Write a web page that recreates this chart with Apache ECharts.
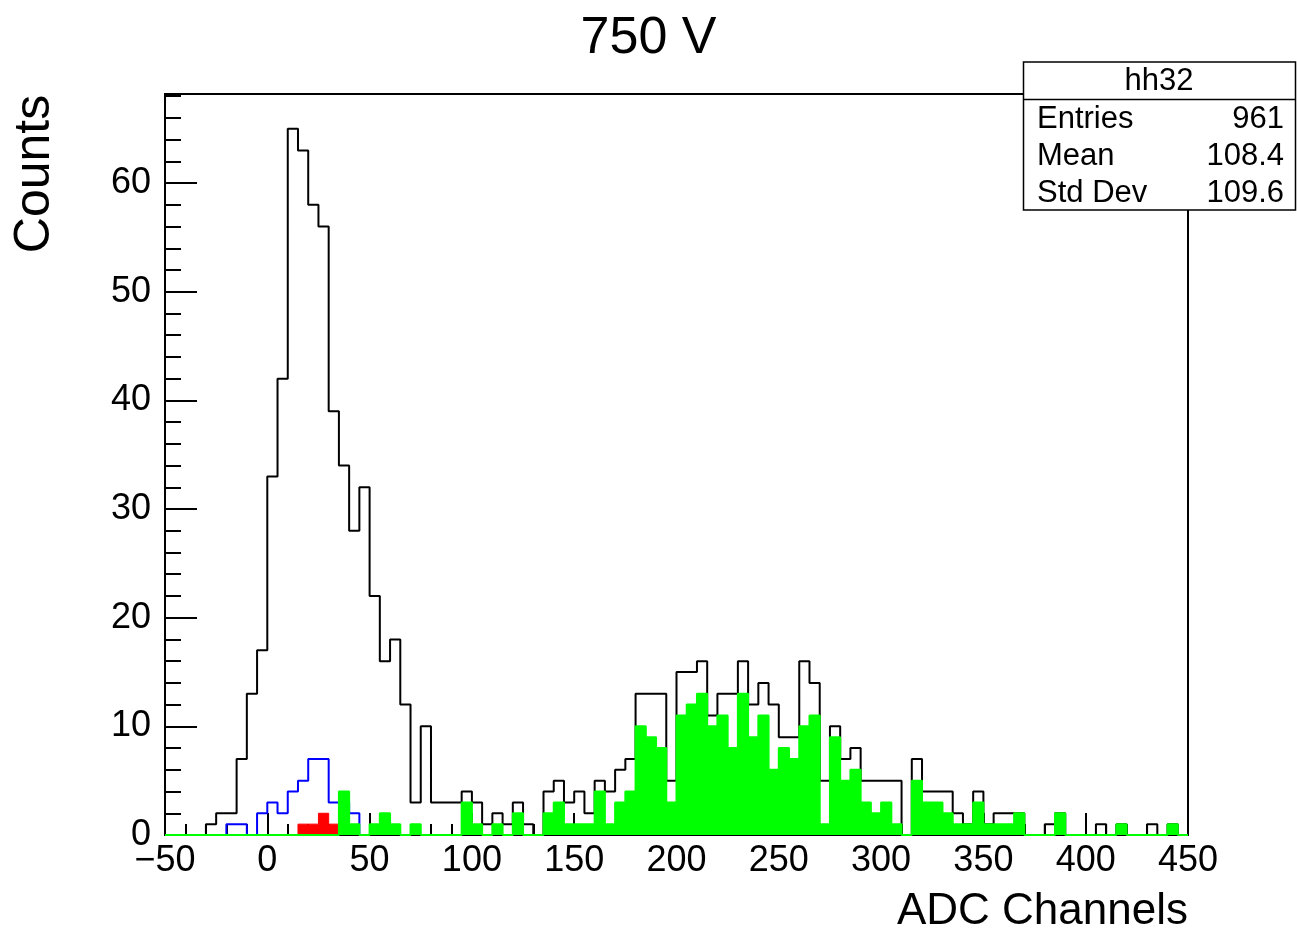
<!DOCTYPE html>
<html><head><meta charset="utf-8">
<script src="https://cdn.jsdelivr.net/npm/echarts@6/dist/echarts.min.js"></script>
<style>html,body{margin:0;padding:0;background:#fff}#c{width:1297px;height:930px}</style>
</head><body><div id="c"></div><script>
// Histogram binning: 100 bins of width 5 from -50 to 450
const binLow = -50, binHigh = 450, binWidth = 5;
const titleText = '750 V';
const xAxisTitle = 'ADC Channels';
const yAxisTitle = 'Counts';
const xTicks = [-50, 0, 50, 100, 150, 200, 250, 300, 350, 400, 450];
const yTicks = [0, 10, 20, 30, 40, 50, 60];
const statsName = 'hh32';
const statsLabels = ['Entries', 'Mean', 'Std Dev'];
const statsValues = ['961', '108.4', '109.6'];

// all events (black outline)
const totalCounts = [
  0,0,0,0,1,2,2,7,13,17,
  33,42,65,63,58,56,39,34,28,32,
  22,16,18,12,3,10,3,3,3,4,
  3,1,2,1,3,1,0,4,5,3,
  4,2,5,4,6,7,13,13,13,5,
  15,15,16,11,13,13,16,12,14,12,
  9,9,16,14,5,10,7,8,5,5,
  5,5,0,7,4,4,4,2,1,4,
  1,2,2,2,0,0,1,2,0,0,
  0,1,0,1,0,0,1,0,1,0
];
// blue outline
const blueCounts = [
  0,0,0,0,0,0,1,1,0,2,
  3,2,4,5,7,7,3,3,2,0,
  0,0,0,0,0,0,0,0,0,0,
  0,0,0,0,0,0,0,0,0,0,
  0,0,0,0,0,0,0,0,0,0,
  0,0,0,0,0,0,0,0,0,0,
  0,0,0,0,0,0,0,0,0,0,
  0,0,0,0,0,0,0,0,0,0,
  0,0,0,0,0,0,0,0,0,0,
  0,0,0,0,0,0,0,0,0,0
];
// red filled
const redCounts = [
  0,0,0,0,0,0,0,0,0,0,
  0,0,0,1,1,2,1,0,0,0,
  0,0,0,0,0,0,0,0,0,0,
  0,0,0,0,0,0,0,0,0,0,
  0,0,0,0,0,0,0,0,0,0,
  0,0,0,0,0,0,0,0,0,0,
  0,0,0,0,0,0,0,0,0,0,
  0,0,0,0,0,0,0,0,0,0,
  0,0,0,0,0,0,0,0,0,0,
  0,0,0,0,0,0,0,0,0,0
];
// green filled
const greenCounts = [
  0,0,0,0,0,0,0,0,0,0,
  0,0,0,0,0,0,0,4,1,0,
  1,2,1,0,1,0,0,0,0,3,
  1,0,1,0,2,0,0,2,3,1,
  1,1,4,1,3,4,10,9,8,3,
  11,12,13,10,11,8,13,9,11,6,
  8,7,10,11,1,9,5,6,3,2,
  3,1,0,5,3,3,2,1,1,3,
  1,1,1,2,0,0,0,2,0,0,
  0,0,0,1,0,0,0,0,1,0
];

// step outline over bins; trim=true keeps only the span between first and last non-empty bin
function stepData(counts, trim) {
  let a = 0, b = counts.length - 1;
  if (trim) {
    while (a < b && counts[a] === 0) a++;
    while (b > a && counts[b] === 0) b--;
  }
  const lo = binLow + a * binWidth, hi = binLow + (b + 1) * binWidth;
  const pts = [[lo, 0]];
  for (let i = a; i <= b; i++) pts.push([binLow + i * binWidth, counts[i]]);
  pts.push([hi, counts[b]]);
  pts.push([hi, 0]);
  return pts;
}

const FONT = 'Liberation Sans, Arial, Helvetica, sans-serif';
const yMax = 68.2;

const chart = echarts.init(document.getElementById('c'), null, {renderer: 'canvas'});
const grid = {left: 165, right: 109, top: 94, bottom: 95, show: true, borderColor: '#000', borderWidth: 2, backgroundColor: 'transparent'};

function lineSeries(name, counts, color, width, fill, trim, z) {
  const s = {
    name, type: 'line', step: 'end', data: stepData(counts, trim), symbol: 'none', z,
    lineStyle: {color, width}, silent: true, animation: false, clip: true
  };
  if (fill) s.areaStyle = {color, opacity: 1, origin: 0};
  return s;
}

chart.setOption({
  animation: false,
  backgroundColor: '#fff',
  title: {text: titleText, left: 'center', top: 8,
    textStyle: {fontFamily: FONT, fontSize: 52, fontWeight: 'normal', color: '#000'}},
  grid,
  xAxis: [{
    type: 'value', min: binLow, max: binHigh, interval: 50,
    axisLine: {show: true, onZero: false, lineStyle: {color: '#000', width: 2}},
    axisTick: {show: true, inside: true, length: 22, lineStyle: {color: '#000', width: 2}},
    minorTick: {show: true, splitNumber: 5, length: 11, lineStyle: {color: '#000', width: 2}},
    splitLine: {show: false},
    axisLabel: {margin: 8, fontFamily: FONT, fontSize: 36, color: '#000',
      formatter: v => xTicks.includes(v) ? (v < 0 ? '\u2212' + Math.abs(v) : String(v)) : ''}
  }],
  yAxis: [{
    type: 'value', min: 0, max: yMax, interval: 10,
    axisLine: {show: true, onZero: false, lineStyle: {color: '#000', width: 2}},
    axisTick: {show: true, inside: true, length: 32, lineStyle: {color: '#000', width: 2}},
    splitLine: {show: false},
    axisLabel: {margin: 14, fontFamily: FONT, fontSize: 36, color: '#000',
      formatter: v => yTicks.includes(v) ? String(v) : ''}
  }, {
    type: 'value', min: 0, max: yMax, interval: 2, position: 'left',
    axisLine: {show: false, onZero: false},
    axisTick: {show: true, inside: true, length: 16, lineStyle: {color: '#000', width: 2}},
    axisLabel: {show: false}, splitLine: {show: false}
  }],
  graphic: [
    {type: 'text', x: 35, y: 174, rotation: Math.PI / 2,
      style: {text: yAxisTitle, fontFamily: FONT, fontSize: 50, fill: '#000', align: 'center', verticalAlign: 'middle'}},
    {type: 'text', x: 1188, y: 912,
      style: {text: xAxisTitle, fontFamily: FONT, fontSize: 44, fill: '#000', align: 'right', verticalAlign: 'middle'}},
    {type: 'group', z: 100, children: [
      {type: 'rect', shape: {x: 1023.5, y: 62, width: 272, height: 148},
        style: {fill: '#fff', stroke: '#000', lineWidth: 1.5}},
      {type: 'line', shape: {x1: 1023.5, y1: 99.5, x2: 1295.5, y2: 99.5}, style: {stroke: '#000', lineWidth: 1.5}},
      {type: 'text', x: 1159, y: 81, style: {text: statsName, fontFamily: FONT, fontSize: 31, fill: '#000', align: 'center', verticalAlign: 'middle'}},
      ...statsLabels.map((t, i) => ({type: 'text', x: 1037, y: 119 + i * 37,
        style: {text: t, fontFamily: FONT, fontSize: 31, fill: '#000', align: 'left', verticalAlign: 'middle'}})),
      ...statsValues.map((t, i) => ({type: 'text', x: 1284, y: 119 + i * 37,
        style: {text: t, fontFamily: FONT, fontSize: 31, fill: '#000', align: 'right', verticalAlign: 'middle'}}))
    ]}
  ],
  series: [
    lineSeries('total', totalCounts, '#000000', 2, false, false, 2),
    lineSeries('blue', blueCounts, '#0000ff', 2, false, true, 3),
    lineSeries('red', redCounts, '#ff0000', 1, true, true, 4),
    lineSeries('green', greenCounts, '#00ff00', 2, true, false, 5)
  ]
});
</script></body></html>
